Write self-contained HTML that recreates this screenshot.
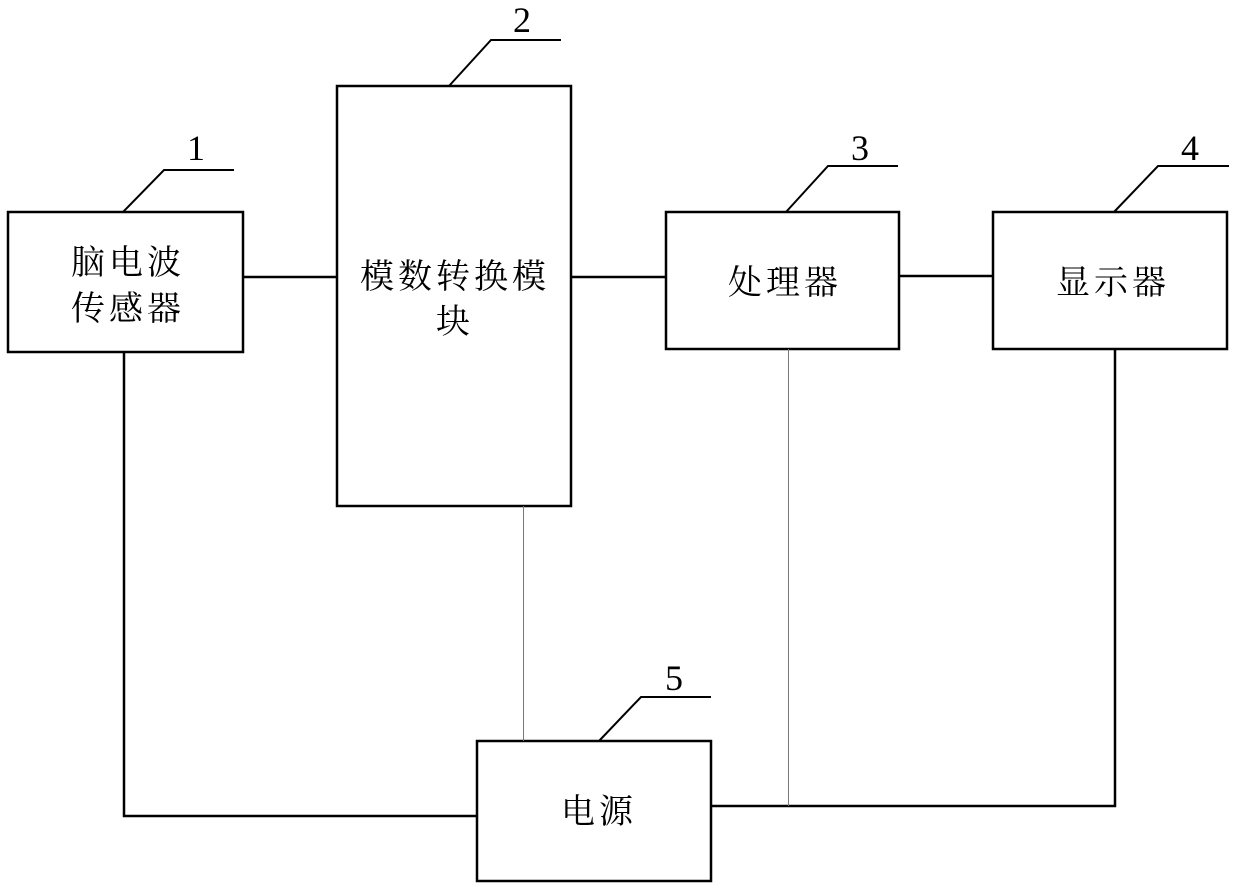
<!DOCTYPE html>
<html><head><meta charset="utf-8"><style>
body{margin:0;background:#fff;}
svg text{font-family:"Liberation Serif","Noto Serif CJK SC",serif;fill:#000;}
.cj{font-size:34px;text-anchor:middle;letter-spacing:4px;}
.n{font-size:36px;text-anchor:middle;}
</style></head><body>
<svg width="1239" height="891" viewBox="0 0 1239 891" xmlns="http://www.w3.org/2000/svg">
<g fill="none" stroke="#000" stroke-width="2.5">
<rect x="8" y="212" width="235" height="140"/>
<rect x="337" y="86" width="234" height="420"/>
<rect x="666" y="212" width="233" height="137"/>
<rect x="993" y="212" width="234" height="137"/>
<rect x="477" y="741" width="234" height="140"/>
<line x1="243" y1="277" x2="337" y2="277"/>
<line x1="571" y1="277" x2="666" y2="277"/>
<line x1="899" y1="276" x2="993" y2="276"/>
<polyline points="124,352 124,816 477,816"/>
<polyline points="711,806 1115,806 1115,349"/>
<polyline points="123,212 164,170 234,170" stroke-width="2"/>
<polyline points="449,86 491,40 561,40" stroke-width="2"/>
<polyline points="786,212 828,166 898,166" stroke-width="2"/>
<polyline points="1114,212 1158,166 1229,166" stroke-width="2"/>
<polyline points="599,741 641,697 711,697" stroke-width="2"/>
</g>
<g stroke="#777" stroke-width="1">
<line x1="523.5" y1="506" x2="523.5" y2="741"/>
<line x1="788.5" y1="349" x2="788.5" y2="806"/>
</g>
<text class="cj" x="128" y="274">脑电波</text>
<text class="cj" x="128" y="320">传感器</text>
<text class="cj" x="455" y="288">模数转换模</text>
<text class="cj" x="455" y="333">块</text>
<text class="cj" x="785" y="294">处理器</text>
<text class="cj" x="1113" y="294">显示器</text>
<text class="cj" x="599" y="823">电源</text>
<text class="n" x="196" y="160">1</text>
<text class="n" x="522" y="32">2</text>
<text class="n" x="860" y="160">3</text>
<text class="n" x="1190" y="160">4</text>
<text class="n" x="674" y="690">5</text>
</svg>
</body></html>
